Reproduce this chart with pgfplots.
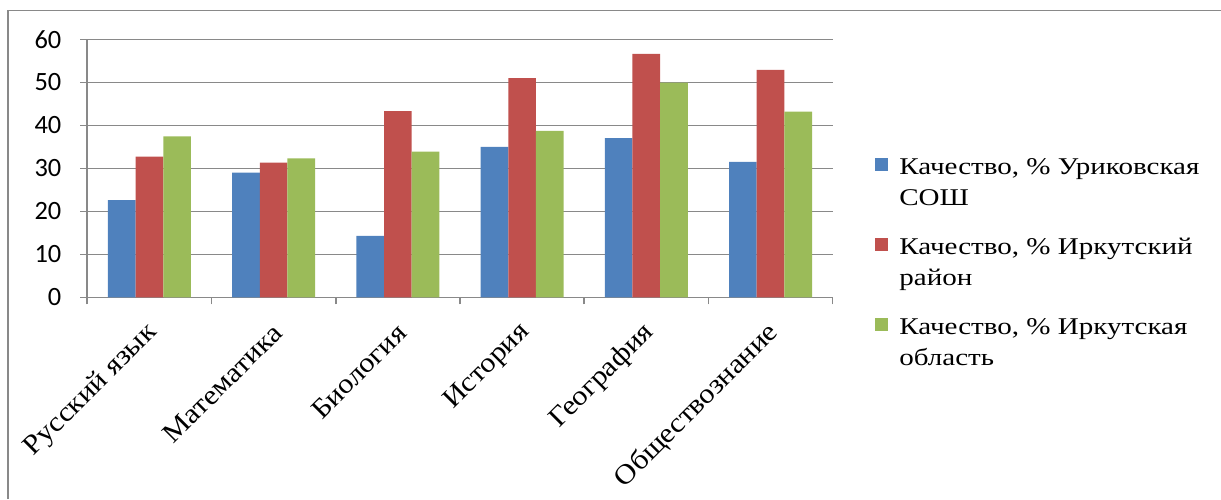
\documentclass[border=0pt]{standalone}
\usepackage{fontspec}
\setmainfont{Liberation Serif}[FakeStretch=1.21]
\newfontfamily\carlito{Carlito}
\newfontfamily\catfont{Liberation Serif}[FakeStretch=1.1]
\usepackage{pgfplots}
\pgfplotsset{compat=1.18}
\definecolor{cblue}{HTML}{4F81BD}
\definecolor{cred}{HTML}{C0504D}
\definecolor{cgreen}{HTML}{9BBB59}
\definecolor{lgray}{HTML}{898989}
\begin{document}
\begin{tikzpicture}
\begin{axis}[
  at={(0,0)}, anchor=south west,
  scale only axis, width=372.7pt, height=129pt,
  xmin=-0.5, xmax=5.5, ymin=0, ymax=60,
  ybar=0pt, bar width=0.223,
  ytick={0,10,...,60},
  xtick={-0.5,0.5,...,5.5},
  x tick label as interval=true,
  xticklabels={Русский язык,Математика,Биология,История,География,Обществознание},
  tick align=outside, major tick length=3.5pt,
  axis x line*=bottom, axis y line*=left,
  axis line style={lgray, line width=0.8pt},
  tick style={lgray, line width=0.8pt},
  ymajorgrids, grid style={lgray, line width=0.8pt},
  /pgf/number format/assume math mode=true,
  yticklabel style={font=\carlito\fontsize{13.2}{15}\selectfont, anchor=east, inner sep=0pt, xshift=-9.3pt},
  xticklabel style={font=\catfont\fontsize{13.8}{15}\selectfont, xshift=2pt, yshift=-12pt, rotate=45, anchor=east, inner sep=0pt},
  legend style={at={(1.0567,0.5748)}, anchor=north west, draw=none, fill=none,
    inner sep=0pt, outer sep=0pt, row sep=23.5pt,
    font=\fontsize{12}{15.5}\selectfont,
    cells={anchor=base west, inner sep=0pt},
    /tikz/every odd column/.style={column sep=3.7pt}},
  legend image code/.code={\fill[#1] (0pt,1.7pt) rectangle (6.5pt,8.2pt);},
]
\addplot[fill=cblue, draw=none] coordinates {(0,22.6) (1,29.0) (2,14.3) (3,35.0) (4,37.0) (5,31.5)};
\addlegendentry{\begin{tabular}[t]{@{}l@{}}Качество, \% Уриковская\\СОШ\end{tabular}}
\addplot[fill=cred, draw=none] coordinates {(0,32.7) (1,31.3) (2,43.3) (3,51.0) (4,56.6) (5,52.9)};
\addlegendentry{\begin{tabular}[t]{@{}l@{}}Качество, \% Иркутский\\район\end{tabular}}
\addplot[fill=cgreen, draw=none] coordinates {(0,37.4) (1,32.3) (2,33.9) (3,38.7) (4,49.9) (5,43.2)};
\addlegendentry{\begin{tabular}[t]{@{}l@{}}Качество, \% Иркутская\\область\end{tabular}}
\end{axis}
\draw[lgray, line width=0.8pt] (-39.65pt,-100.85pt) -- (-39.65pt,143.5pt) -- (566.85pt,143.5pt);
\pgfresetboundingbox
\path[use as bounding box] (-43.65pt,-100.85pt) rectangle (566.85pt,148.65pt);
\end{tikzpicture}
\end{document}
